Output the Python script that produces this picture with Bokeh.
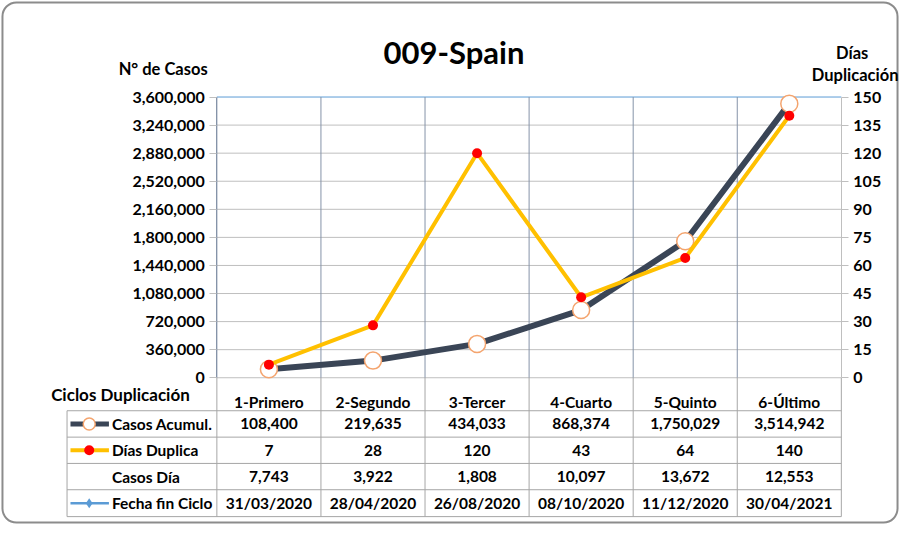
from bokeh.plotting import figure
from bokeh.models import (LinearAxis, Range1d, FixedTicker, NumeralTickFormatter,
                          ColumnDataSource)
from bokeh.core.properties import value
from bokeh.embed import file_html
from bokeh.resources import INLINE

# ---------------- data ----------------
title_text = "009-Spain"
categories = ["1-Primero", "2-Segundo", "3-Tercer", "4-Cuarto", "5-Quinto", "6-Último"]
casos_acumul = [108400, 219635, 434033, 868374, 1750029, 3514942]
dias_duplica = [7, 28, 120, 43, 64, 140]
casos_dia = [7743, 3922, 1808, 10097, 13672, 12553]
fecha_fin = ["31/03/2020", "28/04/2020", "26/08/2020", "08/10/2020", "11/12/2020", "30/04/2021"]
left_ticks = [0, 360000, 720000, 1080000, 1440000, 1800000, 2160000,
              2520000, 2880000, 3240000, 3600000]
right_ticks = [0, 15, 30, 45, 60, 75, 90, 105, 120, 135, 150]
row_labels = ["Casos Acumul.", "Días Duplica", "Casos Día", "Fecha fin Ciclo"]
left_title = "N° de Casos"
right_title = ["Días", "Duplicación"]
table_corner = "Ciclos Duplicación"

# ---------------- layout helpers (reference pixels -> data units) ----------------
W, H = 899, 524
PLOT_L, PLOT_R, PLOT_T, PLOT_B = 221.5, 855.0, 103.0, 388.0
COLW = (PLOT_R - PLOT_L) / len(categories)
YMAX = left_ticks[-1]
DMAX = right_ticks[-1]
YPP = YMAX / (PLOT_B - PLOT_T)
RATIO = YMAX / DMAX


def X(px):
    return -0.5 + (px - PLOT_L) / COLW


def Y(py):
    return (PLOT_B - py) * YPP


FONT = value("Lato")
xs = list(range(len(categories)))

p = figure(width=W, height=H, output_backend="svg", toolbar_location=None,
           x_axis_type=None, y_axis_type=None, min_border=0,
           x_range=Range1d(X(2), X(914)), y_range=Range1d(Y(537), Y(5)))
p.outline_line_color = None
p.background_fill_color = "white"
p.border_fill_color = "white"
p.extra_y_ranges = {"days": Range1d(Y(537) / RATIO, Y(5) / RATIO)}

# outer rounded frame
p.quad(left=X(4), right=X(912), top=Y(7), bottom=Y(535),
       fill_color=None, line_color="#8c8c8c", line_width=2, border_radius=14)

# horizontal gridlines
gx0 = [-0.5] * (len(left_ticks) - 1)
gx1 = [len(categories) - 0.5] * (len(left_ticks) - 1)
p.segment(x0=gx0, x1=gx1, y0=left_ticks[:-1], y1=left_ticks[:-1],
          line_color="#bfbfbf", line_width=1)
p.segment(x0=[-0.5], x1=[len(categories) - 0.5], y0=[YMAX], y1=[YMAX],
          line_color="#5b9bd5", line_width=1)

# vertical gridlines in plot
bounds = [i - 0.5 for i in range(len(categories) + 1)]
p.segment(x0=bounds[:-1], x1=bounds[:-1], y0=[0] * len(categories), y1=[YMAX] * len(categories),
          line_color="#8593a8", line_width=1)

# table lines
row_edges = [421.5, 448.3, 475.0, 501.7, 529.0]
tab_left = X(69.5)
p.segment(x0=[tab_left] * len(row_edges), x1=[bounds[-1]] * len(row_edges),
          y0=[Y(r) for r in row_edges], y1=[Y(r) for r in row_edges],
          line_color="#a6a6a6", line_width=1)
p.segment(x0=bounds, x1=bounds, y0=[0] * len(bounds), y1=[Y(row_edges[-1])] * len(bounds),
          line_color="#a6a6a6", line_width=1)
p.segment(x0=[tab_left], x1=[tab_left], y0=[Y(row_edges[0])], y1=[Y(row_edges[-1])],
          line_color="#a6a6a6", line_width=1)

# axes
left_axis = LinearAxis(fixed_location=-0.5, bounds=(0, YMAX),
                       ticker=FixedTicker(ticks=left_ticks),
                       formatter=NumeralTickFormatter(format="0,0"))
right_axis = LinearAxis(y_range_name="days", fixed_location=len(categories) - 0.5,
                        bounds=(0, DMAX), ticker=FixedTicker(ticks=right_ticks))
for ax, col in ((left_axis, "#8593a8"), (right_axis, "#bfbfbf")):
    ax.axis_line_color = col
    ax.major_tick_line_color = "#bfbfbf"
    ax.major_tick_out = 7
    ax.major_tick_in = 0
    ax.minor_tick_out = 0
    ax.minor_tick_in = 0
    ax.major_label_text_font = "Lato"
    ax.major_label_text_font_style = "bold"
    ax.major_label_text_font_size = "16px"
    ax.major_label_text_color = "#000000"
    ax.major_label_standoff = 5
p.add_layout(left_axis, "left")
p.add_layout(right_axis, "right")

bottom_axis = LinearAxis(fixed_location=0, ticker=FixedTicker(ticks=xs),
                         major_label_overrides={i: c for i, c in enumerate(categories)})
bottom_axis.axis_line_color = None
bottom_axis.major_tick_line_color = None
bottom_axis.minor_tick_line_color = None
bottom_axis.major_label_text_font = "Lato"
bottom_axis.major_label_text_font_style = "bold"
bottom_axis.major_label_text_font_size = "15.5px"
bottom_axis.major_label_text_color = "#000000"
bottom_axis.major_label_standoff = 9
p.add_layout(bottom_axis, "below")

# series
src = ColumnDataSource(dict(x=xs, casos=casos_acumul, dias=dias_duplica))
p.line("x", "casos", source=src, line_color="#3a4556", line_width=6)
p.scatter("x", "casos", source=src, marker="circle", size=17, fill_color="white",
          line_color="#f4a46e", line_width=1.5)
p.line("x", "dias", source=src, y_range_name="days", line_color="#ffc000", line_width=4)
p.scatter("x", "dias", source=src, y_range_name="days", marker="circle", size=10,
          fill_color="#ff0000", line_color=None)

# titles
p.text(x=[X(462)], y=[Y(57)], text=[title_text], text_font=FONT, text_font_style="bold",
       text_font_size="31px", text_align="center", text_baseline="middle", text_color="#000000")
p.text(x=[X(167)], y=[Y(75)], text=[left_title], text_font=FONT, text_font_style="bold",
       text_font_size="16.5px", text_align="center", text_baseline="middle", text_color="#000000")
p.text(x=[X(866), X(913)], y=[Y(58), Y(81)], text=right_title, text_font=FONT,
       text_font_style="bold", text_font_size="16.5px", text_align=["center", "right"],
       text_baseline="middle", text_color="#000000")
p.text(x=[X(194)], y=[Y(405)], text=[table_corner], text_font=FONT, text_font_style="bold",
       text_font_size="17px", text_align="right", text_baseline="middle", text_color="#000000")

# table contents
row_centers = [(row_edges[i] + row_edges[i + 1]) / 2 for i in range(len(row_edges) - 1)]
rows = [[f"{v:,}" for v in casos_acumul],
        [f"{v:,}" for v in dias_duplica],
        [f"{v:,}" for v in casos_dia],
        list(fecha_fin)]
for rc, vals in zip(row_centers, rows):
    p.text(x=xs, y=[Y(rc)] * len(xs), text=vals, text_font=FONT, text_font_style="bold",
           text_font_size="15.5px", text_align="center", text_baseline="middle",
           text_color="#000000")
p.text(x=[X(115)] * len(row_labels), y=[Y(rc) for rc in row_centers], text=row_labels,
       text_font=FONT, text_font_style="bold", text_font_size="15.5px", text_align="left",
       text_baseline="middle", text_color="#000000")

# legend keys inside table
kx0, kx1, kxm = X(73), X(112), X(92)
p.segment(x0=[kx0], x1=[kx1], y0=[Y(row_centers[0])], y1=[Y(row_centers[0])],
          line_color="#3a4556", line_width=5)
p.scatter(x=[kxm], y=[Y(row_centers[0])], marker="circle", size=12, fill_color="white",
          line_color="#f4a46e", line_width=1.5)
p.segment(x0=[kx0], x1=[kx1], y0=[Y(row_centers[1])], y1=[Y(row_centers[1])],
          line_color="#ffc000", line_width=4)
p.scatter(x=[kxm], y=[Y(row_centers[1])], marker="circle", size=10, fill_color="#ff0000",
          line_color=None)
p.segment(x0=[kx0], x1=[kx1], y0=[Y(row_centers[3])], y1=[Y(row_centers[3])],
          line_color="#5b9bd5", line_width=2.5)
p.scatter(x=[kxm], y=[Y(row_centers[3])], marker="diamond", size=10, fill_color="#5b9bd5",
          line_color=None)

open("out.html", "w").write(file_html(p, INLINE))
